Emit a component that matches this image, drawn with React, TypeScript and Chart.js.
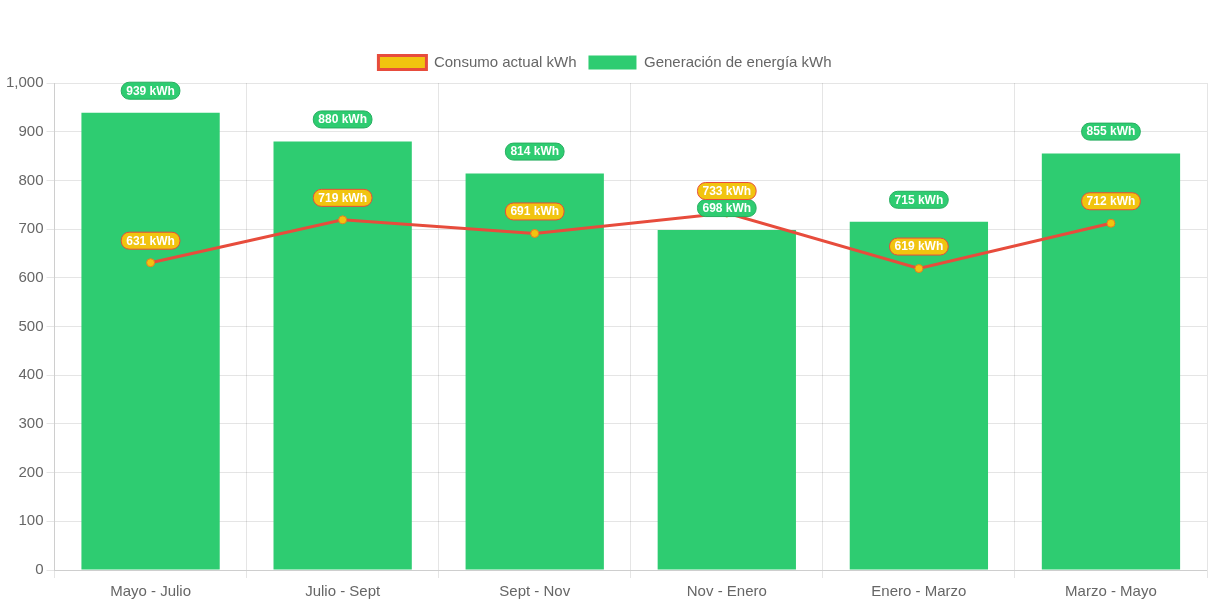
import React, { useEffect, useRef } from "react";
import { Chart, registerables } from "chart.js";

Chart.register(...registerables);

const categories = ["Mayo - Julio", "Julio - Sept", "Sept - Nov", "Nov - Enero", "Enero - Marzo", "Marzo - Mayo"];
const consumo = [631, 719, 691, 733, 619, 712];
const generacion = [939, 880, 814, 698, 715, 855];

const FONT = "'Liberation Sans', Arial, sans-serif";

const legendSpacer = {
  id: "legendSpacer",
  beforeLayout(chart: any) {
    const lg = chart.legend;
    if (lg && !lg._spaced) {
      const orig = lg.fit;
      lg.fit = function () {
        orig.call(this);
        this.height += 3;
      };
      lg._spaced = true;
    }
  },
};

const labelPlugin = {
  id: "kwhLabels",
  afterDatasetsDraw(chart: any) {
    const ctx = chart.ctx;
    const order = [1, 0];
    ctx.save();
    ctx.font = `bold 12px ${FONT}`;
    ctx.textAlign = "center";
    ctx.textBaseline = "middle";
    for (const di of order) {
      const ds = chart.data.datasets[di];
      const meta = chart.getDatasetMeta(di);
      meta.data.forEach((el: any, i: number) => {
        const text = `${ds.data[i]} kWh`;
        const w = ctx.measureText(text).width + 10;
        const h = 17;
        const cx = el.x;
        const cy = el.y - 22;
        ctx.beginPath();
        ctx.roundRect(cx - w / 2, cy - h / 2, w, h, 8);
        ctx.fillStyle = ds.labelBg;
        ctx.fill();
        ctx.lineWidth = 1;
        ctx.strokeStyle = ds.labelBorder;
        ctx.stroke();
        ctx.fillStyle = "#ffffff";
        ctx.fillText(text, cx, cy + 0.5);
      });
    }
    ctx.restore();
  },
};

export default function App() {
  const ref = useRef<HTMLCanvasElement>(null);
  useEffect(() => {
    document.body.style.margin = "0";
    const chart = new Chart(ref.current!, {
      type: "bar",
      data: {
        labels: categories,
        datasets: [
          {
            type: "line",
            label: "Consumo actual kWh",
            data: consumo,
            borderColor: "#e74c3c",
            backgroundColor: "#f1c40f",
            borderWidth: 3,
            pointRadius: 4,
            pointBackgroundColor: "#f1c40f",
            pointBorderColor: "#e67e22",
            pointBorderWidth: 1,
            tension: 0,
            fill: false,
            labelBg: "#f1c40f",
            labelBorder: "#e74c3c",
          } as any,
          {
            type: "bar",
            label: "Generación de energía kWh",
            data: generacion,
            backgroundColor: "#2ecc71",
            borderColor: "#2ecc71",
            borderWidth: 0,
            labelBg: "#2ecc71",
            labelBorder: "#27ae60",
          } as any,
        ],
      },
      options: {
        responsive: false,
        animation: false,
        layout: { padding: { top: 43, right: 6, bottom: 0, left: 3 } },
        plugins: {
          legend: {
            labels: {
              color: "#666",
              padding: 12,
              font: { size: 15, family: FONT },
              boxWidth: 48,
              boxHeight: 14,
            },
          },
          tooltip: { enabled: false },
        },
        scales: {
          x: {
            grid: { color: "rgba(0,0,0,0.1)", offset: true },
            ticks: { color: "#666", padding: 5, font: { size: 15, family: FONT } },
          },
          y: {
            min: 0,
            max: 1000,
            ticks: { stepSize: 100, color: "#666", font: { size: 15, family: FONT } },
            grid: { color: "rgba(0,0,0,0.1)" },
          },
        },
      },
      plugins: [legendSpacer, labelPlugin],
    });
    return () => chart.destroy();
  }, []);
  return <canvas ref={ref} width={1213} height={606} style={{ display: "block" }} />;
}
